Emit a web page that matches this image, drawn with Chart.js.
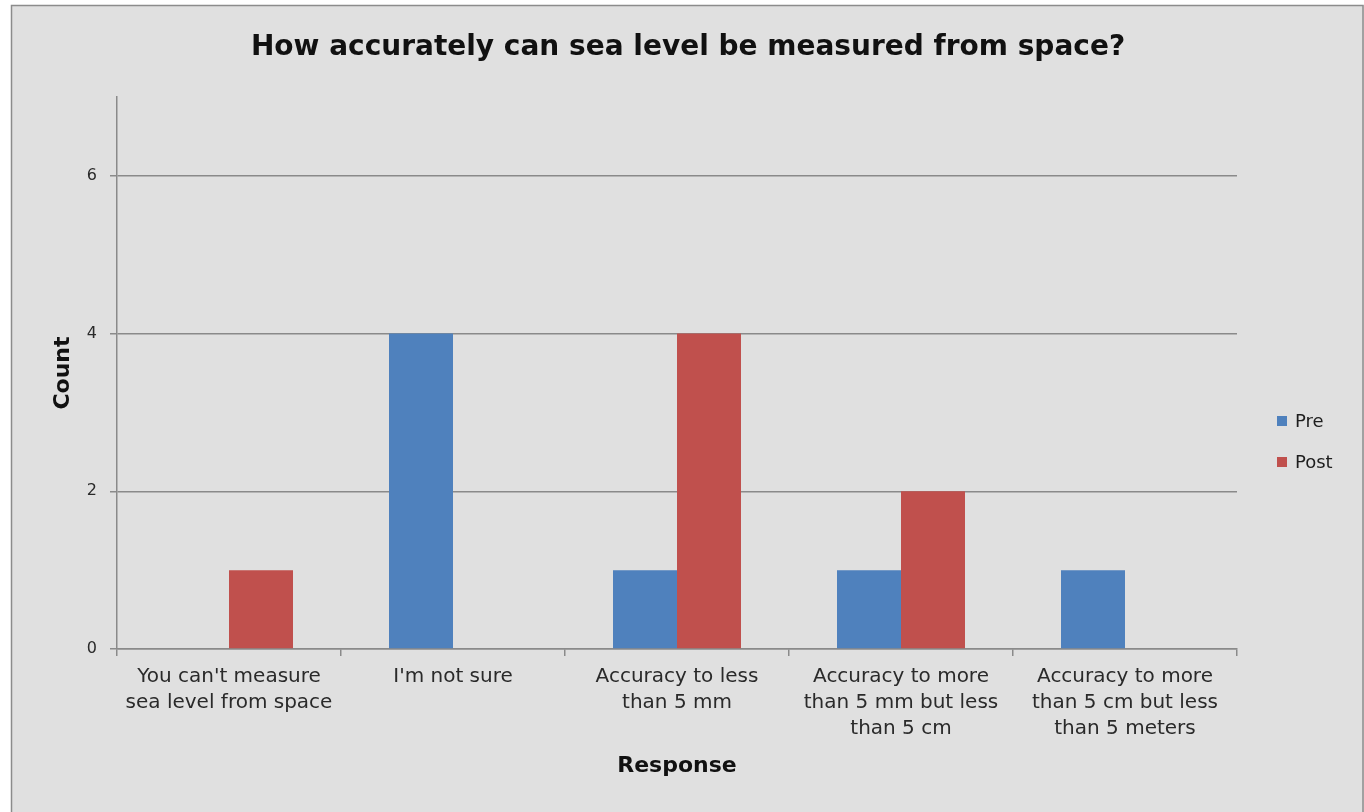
<!DOCTYPE html>
<html>
<head>
<meta charset="utf-8">
<script src="https://cdn.jsdelivr.net/npm/chart.js@4/dist/chart.umd.min.js"></script>
<style>
  html, body { margin: 0; padding: 0; background: #ffffff; }
  #wrap { width: 1364px; height: 812px; position: relative; }
</style>
</head>
<body>
<div id="wrap"><canvas id="c" width="1364" height="812"></canvas></div>
<script>
// Survey responses: how accurately sea level can be measured from space
const categories = [
  ["You can't measure", "sea level from space"],
  ["I'm not sure"],
  ["Accuracy to less", "than 5 mm"],
  ["Accuracy to more", "than 5 mm but less", "than 5 cm"],
  ["Accuracy to more", "than 5 cm but less", "than 5 meters"]
];
const preCounts  = [0, 4, 1, 1, 1];
const postCounts = [1, 0, 4, 2, 0];
const seriesNames = ["Pre", "Post"];
const seriesColors = ["#4f81bd", "#c0504d"];
const chartTitle = "How accurately can sea level be measured from space?";
const yMax = 7;
const yStep = 2;

const FONT = "'DejaVu Sans', sans-serif";
const AXIS_GRAY = "#8a8a8a";

// Panel background with a thin frame, plus the heading
const panelPlugin = {
  id: 'panel',
  beforeDraw(chart) {
    const ctx = chart.ctx;
    ctx.save();
    ctx.fillStyle = '#ffffff';
    ctx.fillRect(0, 0, chart.width, chart.height);
    ctx.fillStyle = '#e0e0e0';
    ctx.fillRect(11, 5, chart.width - 11, chart.height - 5);
    ctx.strokeStyle = '#8c8c8c';
    ctx.lineWidth = 1.5;
    ctx.beginPath();
    ctx.moveTo(11.5, chart.height);
    ctx.lineTo(11.5, 5.5);
    ctx.lineTo(chart.width - 1, 5.5);
    ctx.lineTo(chart.width - 1, chart.height);
    ctx.stroke();

    ctx.fillStyle = '#111111';
    ctx.font = "bold 28px " + FONT;
    ctx.textAlign = 'center';
    ctx.textBaseline = 'middle';
    ctx.fillText(chartTitle, 688, 48);
    ctx.restore();
  }
};

// Vertical legend to the right of the plot
const sideLegend = {
  id: 'sideLegend',
  afterDraw(chart) {
    const ctx = chart.ctx;
    ctx.save();
    ctx.font = "18px " + FONT;
    ctx.textBaseline = 'middle';
    ctx.textAlign = 'left';
    chart.data.datasets.forEach((ds, i) => {
      const y = 421 + i * 41;
      ctx.fillStyle = ds.backgroundColor;
      ctx.fillRect(1277, y - 5, 10, 10);
      ctx.fillStyle = '#1e1e1e';
      ctx.fillText(ds.label, 1295, y + 1);
    });
    ctx.restore();
  }
};

new Chart(document.getElementById('c'), {
  type: 'bar',
  data: {
    labels: categories,
    datasets: [
      { label: seriesNames[0], data: preCounts, backgroundColor: seriesColors[0] },
      { label: seriesNames[1], data: postCounts, backgroundColor: seriesColors[1] }
    ]
  },
  options: {
    responsive: false,
    animation: false,
    devicePixelRatio: 1,
    layout: { padding: { left: 40, right: 127, top: 97, bottom: 20 } },
    datasets: {
      bar: { barPercentage: 1.0, categoryPercentage: 128 / 224 }
    },
    plugins: {
      legend: { display: false },
      tooltip: { enabled: false },
      title: { display: false }
    },
    scales: {
      x: {
        offset: true,
        grid: {
          offset: true,
          drawOnChartArea: false,
          drawTicks: true,
          tickLength: 7,
          color: AXIS_GRAY,
          lineWidth: 1.5
        },
        border: { display: true, color: AXIS_GRAY, width: 1.5 },
        ticks: {
          color: '#2a2a2a',
          font: { family: FONT, size: 20, lineHeight: 1.3 },
          padding: 8,
          maxRotation: 0,
          autoSkip: false
        },
        title: {
          display: true,
          text: 'Response',
          color: '#111111',
          font: { family: FONT, size: 22, weight: 'bold', lineHeight: 1.2 },
          padding: { top: 0, bottom: 13 }
        },
        afterFit(scale) { scale.height = 812 - 20 - 649; }
      },
      y: {
        min: 0,
        max: yMax,
        grid: {
          color: AXIS_GRAY,
          lineWidth: 1.5,
          tickLength: 7,
          drawTicks: true
        },
        border: { display: true, color: AXIS_GRAY, width: 1.5 },
        ticks: {
          stepSize: yStep,
          includeBounds: false,
          color: '#2a2a2a',
          font: { family: FONT, size: 16 },
          padding: 13
        },
        title: {
          display: true,
          text: 'Count',
          color: '#111111',
          font: { family: FONT, size: 22, weight: 'bold', lineHeight: 1.2 },
          padding: { top: 10, bottom: 0 }
        },
        afterFit(scale) { scale.width = 117 - 40; }
      }
    }
  },
  plugins: [panelPlugin, sideLegend]
});
</script>
</body>
</html>
